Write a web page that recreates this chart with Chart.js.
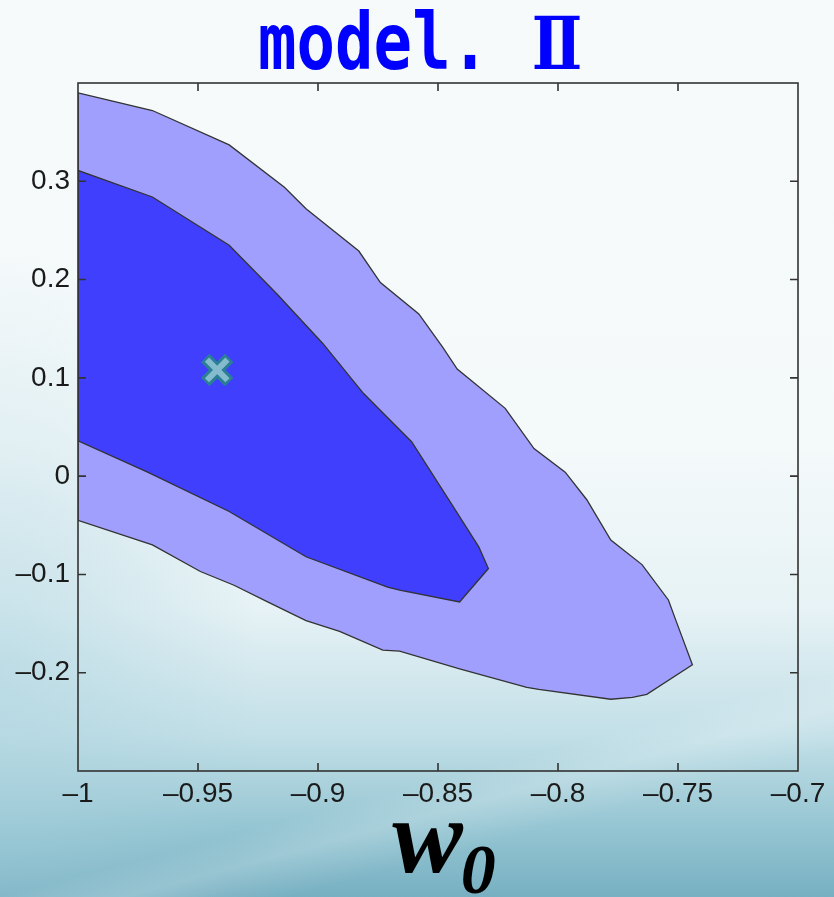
<!DOCTYPE html>
<html>
<head>
<meta charset="utf-8">
<script src="https://cdn.jsdelivr.net/npm/chart.js@4.4.1/dist/chart.umd.min.js"></script>
<style>
  html, body { margin: 0; padding: 0; }
  body {
    width: 834px; height: 897px; overflow: hidden; position: relative;
    background:
      linear-gradient(165deg, rgba(255,255,255,0) 80%, rgba(255,255,255,0.18) 83%, rgba(255,255,255,0) 87%),
      radial-gradient(ellipse 260px 420px at 0% 75%, rgba(170,210,222,0.55), rgba(170,210,222,0) 100%),
      linear-gradient(to bottom, #f6fafb 0%, #f4f9fa 50%, #e6f2f5 68%, #c2dfe7 82%, #96c6d3 92%, #77b0c2 100%);
  }
  #wrap { position: absolute; left: 0; top: 0; width: 834px; height: 897px; }
</style>
</head>
<body>
<div id="wrap"><canvas id="c" width="834" height="897"></canvas></div>
<script>
// ---- data ----
const titleText = 'model. Ⅱ';
const xLabelMain = 'w';
const xLabelSub = '0';

const xTickValues = [-1, -0.95, -0.9, -0.85, -0.8, -0.75, -0.7];
const xTickLabels = ['–1', '–0.95', '–0.9', '–0.85', '–0.8', '–0.75', '–0.7'];
const yTickValues = [-0.2, -0.1, 0, 0.1, 0.2, 0.3];
const yTickLabels = ['–0.2', '–0.1', '0', '0.1', '0.2', '0.3'];

// outer (2-sigma) contour
const outerX = [-1, -0.969, -0.937, -0.914, -0.905, -0.883, -0.874, -0.858, -0.848, -0.842, -0.822, -0.810, -0.797, -0.788, -0.778, -0.765, -0.754, -0.751, -0.744, -0.763, -0.769, -0.778, -0.808, -0.813, -0.841, -0.866, -0.873, -0.891, -0.905, -0.921, -0.935, -0.949, -0.969, -1];
const outerY = [0.390, 0.372, 0.337, 0.294, 0.272, 0.229, 0.197, 0.165, 0.131, 0.109, 0.069, 0.028, 0.004, -0.024, -0.065, -0.090, -0.126, -0.146, -0.192, -0.222, -0.225, -0.227, -0.217, -0.215, -0.196, -0.178, -0.177, -0.158, -0.147, -0.128, -0.111, -0.097, -0.070, -0.045];

// inner (1-sigma) contour
const innerX = [-1, -0.969, -0.937, -0.917, -0.898, -0.881, -0.861, -0.845, -0.833, -0.829, -0.841, -0.866, -0.871, -0.905, -0.937, -0.971, -1];
const innerY = [0.311, 0.284, 0.235, 0.185, 0.135, 0.084, 0.035, -0.026, -0.072, -0.094, -0.128, -0.116, -0.113, -0.082, -0.036, 0.004, 0.036];

// best-fit point
const bestX = [-0.942];
const bestY = [0.108];

// ---- build ----
function toPoints(xs, ys, close) {
  const pts = xs.map((x, i) => ({ x: x, y: ys[i] }));
  if (close) pts.push({ x: xs[0], y: ys[0] });
  return pts;
}

const frameColor = '#333333';

const framePlugin = {
  id: 'framePlugin',
  afterDraw(chart) {
    const ctx = chart.ctx;
    const a = chart.chartArea;
    const xs = chart.scales.x, ys = chart.scales.y;
    ctx.save();
    ctx.strokeStyle = frameColor;
    ctx.lineWidth = 1.6;
    ctx.strokeRect(a.left, a.top, a.right - a.left, a.bottom - a.top);
    const tl = 8;
    ctx.beginPath();
    yTickValues.forEach(v => {
      const p = ys.getPixelForValue(v);
      ctx.moveTo(a.left, p); ctx.lineTo(a.left + tl, p);
      ctx.moveTo(a.right, p); ctx.lineTo(a.right - tl, p);
    });
    xTickValues.slice(1, -1).forEach(v => {
      const p = xs.getPixelForValue(v);
      ctx.moveTo(p, a.bottom); ctx.lineTo(p, a.bottom - tl);
      ctx.moveTo(p, a.top); ctx.lineTo(p, a.top + tl);
    });
    ctx.stroke();

    // title (latin in monospace, roman numeral in serif font)
    ctx.fillStyle = '#0000ff';
    ctx.textAlign = 'left';
    ctx.textBaseline = 'alphabetic';
    const latinFont = 'bold 64px "DejaVu Sans Mono", monospace';
    const numFont = 'bold 60px "DejaVu Serif", "Noto Sans CJK JP", serif';
    const chars = Array.from(titleText);
    const widths = chars.map(ch => {
      ctx.font = ch.charCodeAt(0) > 0x2000 ? numFont : latinFont;
      return ctx.measureText(ch).width;
    });
    ctx.save();
    ctx.translate(258, 69);
    ctx.scale(1, 1.22);
    let cx = 0;
    chars.forEach((ch, i) => {
      const num = ch.charCodeAt(0) > 0x2000;
      ctx.font = num ? numFont : latinFont;
      ctx.fillText(ch, cx + (num ? 4 : 0), 0);
      cx += widths[i];
    });
    ctx.restore();

    // x-axis label w_0
    ctx.fillStyle = '#000000';
    ctx.textAlign = 'left';
    const mainFont = 'italic bold 106px "Liberation Serif", "DejaVu Serif", serif';
    const subFont = 'italic bold 70px "Liberation Serif", "DejaVu Serif", serif';
    ctx.font = mainFont;
    const wMain = ctx.measureText(xLabelMain).width;
    ctx.font = subFont;
    const wSub = ctx.measureText(xLabelSub).width;
    const startX = (a.left + a.right) / 2 + 7 - (wMain + wSub) / 2;
    ctx.font = mainFont;
    ctx.fillText(xLabelMain, startX, a.bottom + 101);
    ctx.font = subFont;
    ctx.fillText(xLabelSub, startX + wMain - 2, a.bottom + 122);
    ctx.restore();
  }
};

const tickFont = { family: '"Liberation Sans", Arial, sans-serif', size: 28 };

new Chart(document.getElementById('c'), {
  type: 'scatter',
  data: {
    datasets: [
      {
        label: 'best fit (inner)',
        data: toPoints(bestX, bestY, false),
        pointStyle: 'crossRot', pointRadius: 14.5, borderWidth: 6,
        borderColor: '#84bcce', backgroundColor: '#84bcce', showLine: false
      },
      {
        label: 'best fit',
        data: toPoints(bestX, bestY, false),
        pointStyle: 'crossRot', pointRadius: 17, borderWidth: 12,
        borderColor: '#2a7f94', backgroundColor: '#2a7f94', showLine: false
      },
      {
        label: '1 sigma',
        data: toPoints(innerX, innerY, true),
        showLine: true, fill: 'shape', tension: 0,
        backgroundColor: '#3f3ffd', borderColor: frameColor, borderWidth: 1.3,
        pointRadius: 0
      },
      {
        label: '2 sigma',
        data: toPoints(outerX, outerY, true),
        showLine: true, fill: 'shape', tension: 0,
        backgroundColor: '#a09ffd', borderColor: frameColor, borderWidth: 1.3,
        pointRadius: 0
      }
    ]
  },
  options: {
    responsive: false,
    animation: false,
    layout: { padding: { top: 83, right: 36, left: 0, bottom: 0 } },
    plugins: {
      legend: { display: false },
      tooltip: { enabled: false },
      title: { display: false }
    },
    scales: {
      x: {
        type: 'linear', min: -1, max: -0.7,
        grid: { display: false, drawTicks: false },
        border: { display: false },
        afterBuildTicks: s => { s.ticks = xTickValues.map(v => ({ value: v })); },
        afterFit: s => { s.height = 126; },
        ticks: {
          autoSkip: false, maxRotation: 0, padding: 6, color: '#1a1a1a', font: tickFont,
          callback: (v, i) => xTickLabels[i]
        }
      },
      y: {
        type: 'linear', min: -0.3, max: 0.4,
        grid: { display: false, drawTicks: false },
        border: { display: false },
        afterBuildTicks: s => { s.ticks = yTickValues.map(v => ({ value: v })); },
        afterFit: s => { s.width = 78; },
        ticks: {
          autoSkip: false, padding: 8, color: '#1a1a1a', font: tickFont,
          callback: (v, i) => yTickLabels[i]
        }
      }
    }
  },
  plugins: [framePlugin]
});
</script>
</body>
</html>
